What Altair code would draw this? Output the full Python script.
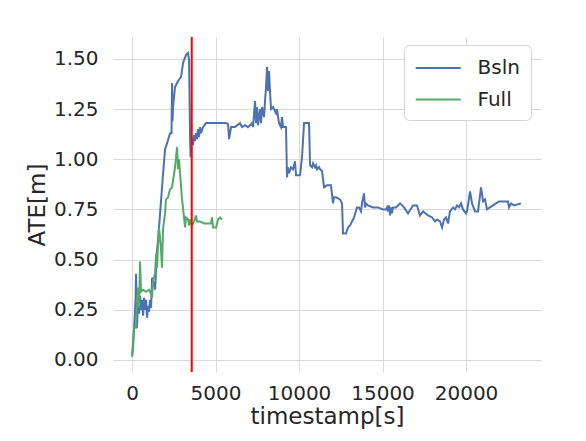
import altair as alt
import pandas as pd

# Bsln series
bsln_t = [0, 120, 210, 240, 300, 360, 420, 480, 540, 600, 660, 720, 780, 840, 900, 960, 1020, 1080, 1140,
          1200, 1260, 1320, 1380, 1440, 1500, 1560, 1680, 1860, 1980, 2100, 2275, 2365, 2395, 2425, 2455,
          2575, 2755, 2935, 3055, 3235, 3355, 3415, 3475, 3505, 3535, 3650, 3715, 3775, 3830, 3890, 3950,
          4010, 4070, 4130, 4250, 4430, 4790, 5630, 5750, 5810, 5930, 6170, 6465, 6585, 6765, 6945, 7185,
          7245, 7365, 7425, 7485, 7545, 7665, 7725, 7785, 7905, 7965, 8025, 8085, 8145, 8205, 8265, 8325,
          8445, 8620, 8680, 8800, 8920, 8980, 9040, 9220, 9280, 9340, 9400, 9520, 9640, 9760, 9820, 10060,
          10180, 10300, 10600, 10660, 10780, 10840, 10960, 11020, 11080, 11200, 11260, 11380, 11500, 11675,
          11915, 12035, 12095, 12215, 12455, 12575, 12635, 12815, 12935, 13055, 13295, 13470, 13590, 13710,
          13770, 13890, 13950, 14010, 14130, 14430, 14730, 15030, 15210, 15270, 15330, 15390, 15450, 15510,
          15570, 15630, 15810, 16050, 16290, 16525, 16825, 17065, 17245, 17425, 17725, 17965, 18145, 18265,
          18445, 18565, 18685, 18805, 18925, 19040, 19220, 19340, 19460, 19580, 19700, 19820, 20000, 20060,
          20240, 20360, 20540, 20720, 20900, 21020, 21135, 21255, 21435, 21615, 21975, 22515, 22575, 22695,
          22875, 23295]
bsln_v = [0.02, 0.15, 0.30, 0.43, 0.16, 0.30, 0.23, 0.32, 0.25, 0.30, 0.22, 0.31, 0.25, 0.30, 0.21, 0.27, 0.24,
          0.30, 0.26, 0.41, 0.37, 0.39, 0.35, 0.45, 0.55, 0.60, 0.73, 0.93, 1.05, 1.08, 1.13, 1.13, 1.38, 1.19,
          1.26, 1.36, 1.39, 1.41, 1.48, 1.52, 1.53, 1.49, 1.11, 1.01, 1.11, 1.07, 1.12, 1.09, 1.13, 1.10, 1.15,
          1.11, 1.16, 1.13, 1.16, 1.18, 1.18, 1.18, 1.175, 1.10, 1.16, 1.16, 1.18, 1.16, 1.17, 1.16, 1.18,
          1.16, 1.29, 1.18, 1.26, 1.17, 1.25, 1.18, 1.26, 1.21, 1.29, 1.36, 1.46, 1.34, 1.44, 1.33, 1.25,
          1.26, 1.23, 1.25, 1.18, 1.16, 1.21, 1.16, 1.16, 0.91, 0.96, 0.93, 0.96, 0.95, 0.99, 0.92, 0.92,
          1.01, 1.18, 1.18, 0.97, 0.96, 0.98, 0.96, 0.97, 0.95, 0.96, 0.95, 0.94, 0.86, 0.87,
          0.87, 0.78, 0.81, 0.81, 0.80, 0.78, 0.63, 0.63, 0.66, 0.67, 0.71, 0.76, 0.76, 0.74,
          0.78, 0.83, 0.76, 0.78, 0.77, 0.76, 0.76, 0.75, 0.75, 0.76, 0.74, 0.77, 0.72, 0.76,
          0.73, 0.76, 0.76, 0.78, 0.76, 0.73, 0.77, 0.77, 0.72, 0.74, 0.72, 0.71, 0.69, 0.70,
          0.69, 0.66, 0.70, 0.71, 0.68, 0.74, 0.76, 0.75, 0.77, 0.76, 0.78, 0.75, 0.73, 0.74,
          0.84, 0.78, 0.74, 0.74, 0.86, 0.79, 0.80, 0.75, 0.76, 0.77, 0.79, 0.79, 0.76, 0.78,
          0.77, 0.78]

# Full series
full_t = [0, 60, 120, 240, 300, 360, 420, 480, 540, 660, 840, 1020, 1140, 1200, 1260, 1380, 1440, 1500, 1560,
          1615, 1675, 1735, 1795, 1855, 1975, 2035, 2155, 2275, 2395, 2575, 2695, 2755, 2815, 2875, 2995,
          3115, 3175, 3235, 3355, 3415, 3475, 3595, 3715, 3830, 3890, 4070, 4310, 4490, 4730, 4790, 4850,
          5030, 5150, 5270, 5390]
full_v = [0.015, 0.05, 0.16, 0.16, 0.30, 0.36, 0.26, 0.49, 0.34, 0.35, 0.34, 0.35, 0.33, 0.31, 0.40, 0.43, 0.53,
          0.46, 0.58, 0.66, 0.61, 0.55, 0.46, 0.65, 0.73, 0.80, 0.81, 0.85, 0.86, 0.96, 1.06, 0.95, 1.00, 0.93,
          0.80, 0.71, 0.66, 0.71, 0.70, 0.67, 0.70, 0.67, 0.69, 0.72, 0.69, 0.69, 0.68, 0.68, 0.68, 0.71, 0.66,
          0.66, 0.70, 0.71, 0.70]

marker_t = [3575]

series = ["Bsln", "Full"]
colors = ["#4c72b0", "#55a868"]
x_ticks = [0, 5000, 10000, 15000, 20000]
y_ticks = [0.0, 0.25, 0.5, 0.75, 1.0, 1.25, 1.5]

rows = []
for i, (t, v) in enumerate(zip(bsln_t, bsln_v)):
    rows.append({"t": t, "v": v, "s": "Bsln", "o": i})
for i, (t, v) in enumerate(zip(full_t, full_v)):
    rows.append({"t": t, "v": v, "s": "Full", "o": i})
df = pd.DataFrame(rows)

FONT = "DejaVu Sans"
TXT = "#262626"

xscale = alt.Scale(domain=[-1140, 24490], nice=False, zero=False)
yscale = alt.Scale(domain=[-0.06, 1.609], nice=False, zero=False)

lines = alt.Chart(df).mark_line(strokeWidth=2, clip=True).encode(
    x=alt.X("t:Q", scale=xscale,
            axis=alt.Axis(values=x_ticks, title="timestamp[s]", format="d", grid=True,
                          domain=False, ticks=False, labelPadding=11, titlePadding=2)),
    y=alt.Y("v:Q", scale=yscale,
            axis=alt.Axis(values=y_ticks, title="ATE[m]", format=".2f", grid=True,
                          domain=False, ticks=False, labelPadding=15, titlePadding=4)),
    color=alt.Color("s:N", scale=alt.Scale(domain=series, range=colors),
                    legend=alt.Legend(title=None, orient="none", legendX=291, legendY=8,
                                      symbolType="M-1,0H3", symbolSize=506, symbolStrokeWidth=2,
                                      labelFontSize=20, labelFont=FONT, labelColor=TXT,
                                      padding=10.5, rowPadding=8.5, labelOffset=38,
                                      fillColor="white", strokeColor="#d4d4d4", cornerRadius=5)),
    order="o:Q",
)

vline = alt.Chart(pd.DataFrame({"t": marker_t})).mark_rule(color="#ff0000", strokeWidth=2).encode(
    x=alt.X("t:Q", scale=xscale)
)

chart = alt.layer(lines, vline).properties(
    width=428, height=335,
    autosize=alt.AutoSizeParams(type="none"),
    padding={"left": 105, "top": 29, "right": 37, "bottom": 61},
).configure_view(stroke=None).configure_axis(
    labelFont=FONT, titleFont=FONT, labelFontSize=20, titleFontSize=23,
    labelColor=TXT, titleColor=TXT, titleFontWeight="normal",
    gridColor="#d9d9d9", gridWidth=1,
)

chart.save("out.html", embed_options={"renderer": "svg", "actions": False})
